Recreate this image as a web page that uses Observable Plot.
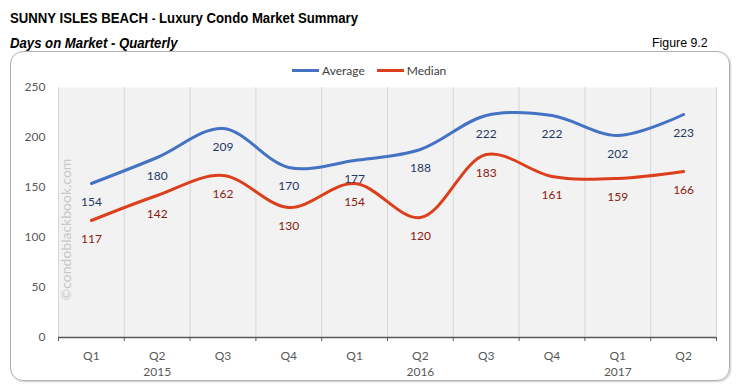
<!DOCTYPE html>
<html><head><meta charset="utf-8">
<script src="https://cdn.jsdelivr.net/npm/d3@7"></script>
<script src="https://cdn.jsdelivr.net/npm/@observablehq/plot@0.6"></script>
<style>
body{margin:0;background:#fff;width:736px;height:389px;position:relative;overflow:hidden;font-family:Lato,"Open Sans",sans-serif;}
.t{position:absolute;font-family:"Liberation Sans",Arial,sans-serif;color:#000;white-space:nowrap;transform-origin:left top;}
#box{position:absolute;left:10px;top:51px;width:718px;height:328px;border:1px solid #b0b0b0;border-radius:13px;box-shadow:1px 1px 2px #ccc;}
#chart{position:absolute;left:10px;top:52px;}
#legend{position:absolute;top:63px;left:292px;font-size:12px;color:#404040;font-family:Lato,"Open Sans",sans-serif;display:flex;align-items:center;}
#legend span.sw{display:inline-block;width:27px;height:3px;margin-right:3px;}
</style></head>
<body>
<div class="t" style="left:10px;top:10px;font-size:14px;font-weight:bold;transform:scaleX(0.94);">SUNNY ISLES BEACH <span style="font-size:12px">-</span> Luxury Condo Market Summary</div>
<div class="t" style="left:10px;top:35px;font-size:14px;font-weight:bold;font-style:italic;transform:scaleX(0.94);">Days on Market - Quarterly</div>
<div class="t" style="left:652px;top:35px;font-size:13px;transform:scaleX(0.95);">Figure 9.2</div>
<div id="box"></div>
<div id="chart"></div>
<div id="legend"><span class="sw" style="background:#4472c4"></span><span style="margin-right:12px">Average</span><span class="sw" style="background:#dc3f1c"></span><span>Median</span></div>
<script>
const quarters = ["Q1","Q2","Q3","Q4","Q1","Q2","Q3","Q4","Q1","Q2"];
const years = ["2015","2016","2017"];
const yearPos = [1,5,8];
const average = [154,180,209,170,177,188,222,222,202,223];
const median = [117,142,162,130,154,120,183,161,159,166];
const yTicks = [0,50,100,150,200,250];

const idx = quarters.map((_, i) => i);
const bounds = d3.range(quarters.length + 1).map(i => i - 0.5);
const avgData = idx.map(i => ({i, v: average[i]}));
const medData = idx.map(i => ({i, v: median[i]}));

const chart = Plot.plot({
  width: 720, height: 329,
  marginLeft: 48, marginRight: 14, marginTop: 35, marginBottom: 44,
  style: {fontFamily: "Lato, 'Open Sans', sans-serif", fontSize: "12px", background: "transparent"},
  x: {domain: [-0.5, quarters.length - 0.5], axis: null, label: null},
  y: {domain: [0, 250], axis: null, label: null},
  marks: [
    Plot.frame({fill: "#f2f2f2", stroke: null}),
    Plot.ruleX(bounds, {stroke: "#d6d6d6", strokeWidth: 1}),
    Plot.ruleY([0], {stroke: "#595959", strokeWidth: 1.3}),
    Plot.axisX({ticks: bounds, tickFormat: () => "", tickSize: 4, stroke: "#595959", label: null}),
    Plot.axisX({ticks: idx, tickFormat: d => quarters[d], tickSize: 0, tickPadding: 14, fill: "#595959", fontSize: 12, label: null}),
    Plot.axisX({ticks: yearPos, tickFormat: d => years[yearPos.indexOf(d)], tickSize: 0, tickPadding: 30, fill: "#595959", fontSize: 12, label: null}),
    Plot.axisY({ticks: yTicks, tickSize: 0, tickPadding: 13, fill: "#595959", fontSize: 12, label: null}),
    Plot.text(["©condoblackbook.com"], {x: -0.5, y: 108, dx: 8, rotate: -90, textAnchor: "middle", fill: "#c8c8c8", fontSize: 14}),
    Plot.line(avgData, {x: "i", y: "v", stroke: "#4472c4", strokeWidth: 3, curve: "catmull-rom"}),
    Plot.line(medData, {x: "i", y: "v", stroke: "#dc3f1c", strokeWidth: 3, curve: "catmull-rom"}),
    Plot.text(avgData, {x: "i", y: "v", text: d => String(d.v), dy: 19, fill: "#1f3864", fontSize: 12}),
    Plot.text(medData, {x: "i", y: "v", text: d => String(d.v), dy: 19, fill: "#8b1a10", fontSize: 12})
  ]
});
document.getElementById("chart").appendChild(chart);
</script>
</body></html>
